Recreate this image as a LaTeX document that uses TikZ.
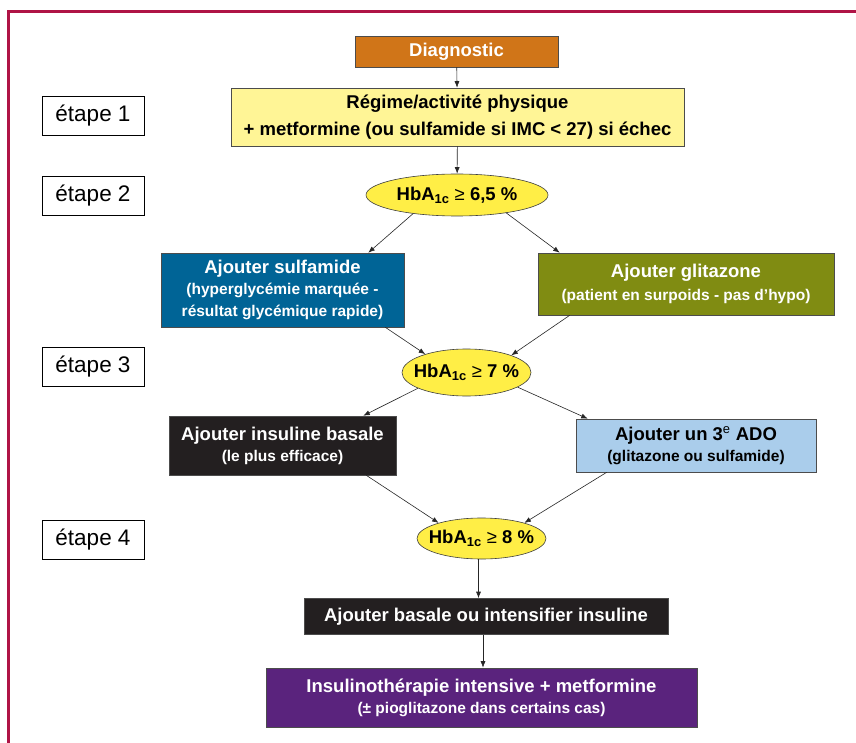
\documentclass[tikz,border=0pt]{standalone}
\usepackage{fontspec}
\setmainfont{Liberation Sans}
\usetikzlibrary{shapes.geometric,arrows.meta}
\definecolor{bordeaux}{RGB}{175,20,70}
\definecolor{orangediag}{RGB}{208,117,24}
\definecolor{jaunepale}{RGB}{255,245,150}
\definecolor{jaunehb}{RGB}{255,238,70}
\definecolor{bleusulf}{RGB}{0,100,150}
\definecolor{vertglit}{RGB}{128,140,18}
\definecolor{noirbox}{RGB}{35,31,32}
\definecolor{bleuado}{RGB}{170,205,235}
\definecolor{violetins}{RGB}{90,35,125}
\newcommand\petit{\fontsize{15.5}{19}\selectfont}

\begin{document}
\begin{tikzpicture}[x=1pt,y=-1pt,
  box/.style={draw=black!70,line width=0.6pt,inner sep=0pt,align=center,font=\fontsize{18.5}{22}\selectfont\bfseries},
  hb/.style={ellipse,draw=black!75,line width=0.6pt,fill=jaunehb,inner sep=0pt},
  hbtxt/.style={font=\fontsize{18.5}{22}\selectfont\bfseries,inner sep=0pt},
  etape/.style={draw=black,line width=0.6pt,minimum width=102pt,minimum height=39pt,inner sep=0pt,font=\fontsize{22.5}{24}\selectfont},
  fl/.style={-{Latex[length=6.5pt,width=5pt]},black!85,line width=0.6pt}]
  \useasboundingbox (0,0) rectangle (856,743);
  \fill[white] (0,0) rectangle (856,743);
  \draw[bordeaux,line width=3pt] (8,743) -- (8,11.5) -- (856,11.5);

  \node[etape] (e1) at (93,115.5) {étape 1};
  \node[etape] (e2) at (93,196) {étape 2};
  \node[etape] (e3) at (93,366.5) {étape 3};
  \node[etape] (e4) at (93,539.5) {étape 4};

  \node[box,fill=orangediag,text=white,minimum width=203pt,minimum height=31pt] (diag) at (456.5,51.5) {Diagnostic};
  \node[box,fill=jaunepale,minimum width=453pt,minimum height=58pt] (reg) at (457.5,117) {Régime/activité physique\\[5pt]+ metformine (ou sulfamide si IMC < 27) si échec};
  \node[hb,minimum width=182pt,minimum height=42pt,label={[hbtxt]center:{HbA\textsubscript{1c} {\mdseries ≥} 6,5 \%}}] (hb1) at (457,195) {};

  \node[box,fill=bleusulf,text=white,minimum width=243pt,minimum height=74pt] (sulf) at (282.5,290) {Ajouter sulfamide\\[-1pt]\petit(hyperglycémie marquée -\\\petit résultat glycémique rapide)};
  \node[box,fill=vertglit,text=white,minimum width=296pt,minimum height=62pt] (glit) at (686,284) {Ajouter glitazone\\[1pt]\petit(patient en surpoids - pas d’hypo)};
  \node[hb,minimum width=129pt,minimum height=47pt,label={[hbtxt]center:{HbA\textsubscript{1c} {\mdseries ≥} 7 \%}}] (hb2) at (466.5,372.5) {};

  \node[box,fill=noirbox,text=white,minimum width=227pt,minimum height=59pt] (insul) at (282.5,445.5) {Ajouter insuline basale\\[-1pt]\petit(le plus efficace)};
  \node[box,fill=bleuado,minimum width=240pt,minimum height=53pt] (ado) at (696,445.5) {Ajouter un 3\textsuperscript{\mdseries e} ADO\\[-1pt]\petit(glitazone ou sulfamide)};
  \node[hb,minimum width=129pt,minimum height=41pt,label={[hbtxt]center:{HbA\textsubscript{1c} {\mdseries ≥} 8 \%}}] (hb3) at (481.5,538.5) {};

  \node[box,fill=noirbox,text=white,minimum width=364pt,minimum height=36pt] (bas) at (486,616.5) {Ajouter basale ou intensifier insuline};
  \node[box,fill=violetins,text=white,minimum width=431pt,minimum height=59pt] (intens) at (481.5,697.5) {Insulinothérapie intensive + metformine\\[-1pt]\petit(± pioglitazone dans certains cas)};

  \draw[fl] (diag) -- (reg);
  \draw[fl] (reg) -- (hb1);
  \draw[fl] (hb1.-157.8) -- ([xshift=-36pt]sulf.north east);
  \draw[fl] (hb1.-20) -- ([xshift=22pt]glit.north west);
  \draw[fl] ([xshift=-19pt]sulf.south east) -- (hb2.156.8);
  \draw[fl] ([xshift=32pt]glit.south west) -- (hb2.21.5);
  \draw[fl] (hb2.-162.4) -- ([xshift=-33pt]insul.north east);
  \draw[fl] (hb2.-16.7) -- ([xshift=12pt]ado.north west);
  \draw[fl] ([xshift=-30pt]insul.south east) -- (hb3.160);
  \draw[fl] ([xshift=31pt]ado.south west) -- (hb3.20);
  \draw[fl] ([xshift=-3pt]hb3.south) -- ([xshift=-3pt]hb3.south |- bas.north);
  \draw[fl] ([xshift=-3pt]bas.south) -- ([xshift=-3pt]bas.south |- intens.north);
\end{tikzpicture}
\end{document}
